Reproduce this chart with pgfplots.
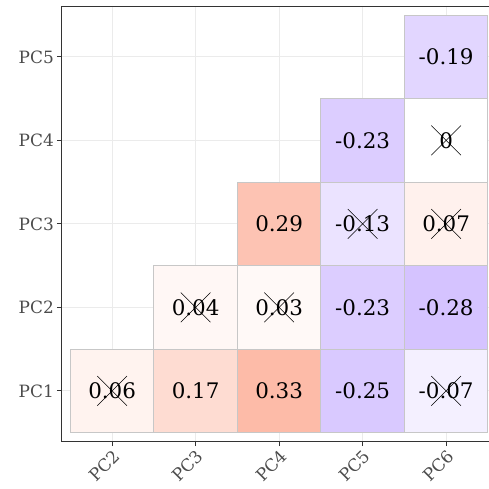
\documentclass[border=0pt]{standalone}
\usepackage{pgfplots}
\usepackage{pgfplotstable}
\pgfplotsset{compat=1.18}
\usepackage{fontspec}
\setmainfont{DejaVu Serif}
\pgfplotstableread{
x y v lab
1 1 0.06 0.06
2 1 0.17 0.17
3 1 0.33 0.33
4 1 -0.25 -0.25
5 1 -0.07 -0.07
2 2 0.04 0.04
3 2 0.03 0.03
4 2 -0.23 -0.23
5 2 -0.28 -0.28
3 3 0.29 0.29
4 3 -0.13 -0.13
5 3 0.07 0.07
4 4 -0.23 -0.23
5 4 0 0
5 5 -0.19 -0.19
}\corrdata
\pgfplotstableread{
x y
1 1
2 2
3 2
4 3
5 3
5 4
5 1
}\crossdata
\begin{document}
\begin{tikzpicture}
\begin{axis}[
  at={(62bp,48bp)}, anchor=south west,
  x=83.5bp, y=83.5bp,
  xmin=0.4, xmax=5.6, ymin=0.4, ymax=5.6,
  xtick={1,2,3,4,5}, ytick={1,2,3,4,5},
  xticklabels={PC2,PC3,PC4,PC5,PC6},
  yticklabels={PC1,PC2,PC3,PC4,PC5},
  xtick pos=bottom, ytick pos=left,
  tick align=outside, major tick length=5bp,
  tick style={draw=black!80, line width=1bp},
  grid=major, grid style={draw=black!8, line width=1bp},
  axis line style={draw=black!80, line width=1bp},
  ticklabel style={font=\fontsize{17}{20}\selectfont, text=black!70},
  xticklabel style={rotate=45, anchor=north east, inner sep=2bp},
  yticklabel style={inner sep=3bp},
  colormap={corr}{rgb255(0cm)=(205,184,255); rgb255(1cm)=(255,255,255); rgb255(2cm)=(253,187,168)},
  point meta min=-0.33, point meta max=0.33,
  clip=false,
]
\addplot[scatter, only marks, mark=square*, mark size=41.75bp, point meta=explicit,
  scatter/use mapped color={draw=black!22, fill=mapped color}, line width=0.8bp]
  table[x=x, y=y, meta=v] {\corrdata};
\addplot[only marks, mark=x, mark size=21bp, black, line width=0.6bp]
  table[x=x, y=y] {\crossdata};
\addplot[only marks, mark=none, nodes near coords, point meta=explicit symbolic,
  nodes near coords style={anchor=center, font=\fontsize{21.5}{24}\selectfont, text=black}]
  table[x=x, y=y, meta=lab] {\corrdata};
\end{axis}
\pgfresetboundingbox
\path (0,0) rectangle (489bp,489bp);
\end{tikzpicture}
\end{document}
